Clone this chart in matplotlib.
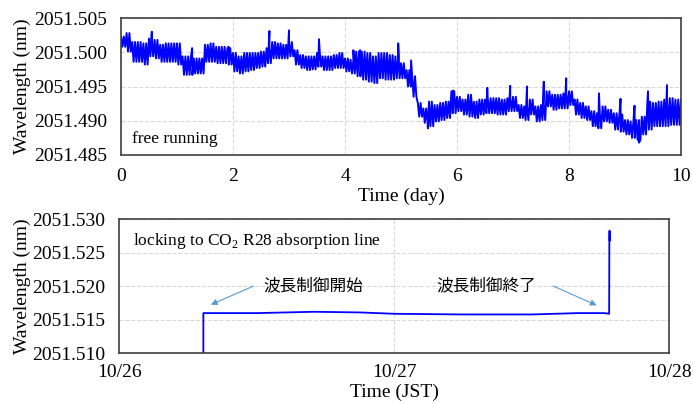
import numpy as np
import pandas as pd
import matplotlib
matplotlib.use('Agg')
import matplotlib.pyplot as plt
import matplotlib.dates as mdates

plt.rcParams['font.family'] = ['Liberation Serif', 'Noto Sans CJK JP']
plt.rcParams['mathtext.fontset'] = 'custom'
plt.rcParams['mathtext.rm'] = 'Liberation Serif'

# --- free running (top) ---
# upper / lower envelope of the noisy trace, every 0.1 day
day_grid = np.round(np.arange(0, 10.05, 0.1), 2)
wl_hi = [2051.5023, 2051.5028, 2051.5015, 2051.5015, 2051.5013, 2051.5020, 2051.5018, 2051.5011, 2051.5013, 2051.5013,
         2051.5013, 2051.4994, 2051.4994, 2051.4991, 2051.4991, 2051.5011, 2051.5013, 2051.5008, 2051.5008, 2051.5006,
         2051.4999, 2051.4994, 2051.4999, 2051.4999, 2051.4999, 2051.5001, 2051.5006, 2051.5015, 2051.5013, 2051.5011,
         2051.5015, 2051.5003, 2051.4996, 2051.4994, 2051.4994, 2051.4999, 2051.4994, 2051.4994, 2051.4996, 2051.4999,
         2051.4991, 2051.4989, 2051.5001, 2051.5001, 2051.4999, 2051.4994, 2051.4999, 2051.4999, 2051.4996, 2051.4994,
         2051.4984, 2051.4974, 2051.4965, 2051.4926, 2051.4918, 2051.4928, 2051.4923, 2051.4926, 2051.4928, 2051.4943,
         2051.4935, 2051.4931, 2051.4938, 2051.4928, 2051.4931, 2051.4931, 2051.4933, 2051.4933, 2051.4931, 2051.4933,
         2051.4935, 2051.4923, 2051.4921, 2051.4931, 2051.4921, 2051.4923, 2051.4943, 2051.4938, 2051.4938, 2051.4940,
         2051.4943, 2051.4931, 2051.4926, 2051.4921, 2051.4914, 2051.4911, 2051.4921, 2051.4916, 2051.4911, 2051.4909,
         2051.4901, 2051.4899, 2051.4901, 2051.4906, 2051.4928, 2051.4926, 2051.4928, 2051.4931, 2051.4933, 2051.4931,
         2051.4931]
wl_lo = [2051.5008, 2051.5001, 2051.4986, 2051.4986, 2051.4982, 2051.4994, 2051.4991, 2051.4986, 2051.4986, 2051.4986,
         2051.4982, 2051.4967, 2051.4967, 2051.4969, 2051.4969, 2051.4986, 2051.4986, 2051.4984, 2051.4984, 2051.4982,
         2051.4972, 2051.4969, 2051.4972, 2051.4974, 2051.4977, 2051.4979, 2051.4984, 2051.4991, 2051.4991, 2051.4991,
         2051.4994, 2051.4982, 2051.4977, 2051.4974, 2051.4975, 2051.4979, 2051.4974, 2051.4974, 2051.4977, 2051.4977,
         2051.4972, 2051.4969, 2051.4965, 2051.4960, 2051.4957, 2051.4955, 2051.4962, 2051.4960, 2051.4960, 2051.4962,
         2051.4962, 2051.4950, 2051.4935, 2051.4906, 2051.4897, 2051.4892, 2051.4899, 2051.4901, 2051.4904, 2051.4911,
         2051.4914, 2051.4909, 2051.4906, 2051.4904, 2051.4909, 2051.4911, 2051.4911, 2051.4909, 2051.4909, 2051.4914,
         2051.4914, 2051.4904, 2051.4901, 2051.4909, 2051.4899, 2051.4901, 2051.4921, 2051.4916, 2051.4918, 2051.4918,
         2051.4923, 2051.4909, 2051.4904, 2051.4901, 2051.4892, 2051.4889, 2051.4899, 2051.4897, 2051.4887, 2051.4884,
         2051.4880, 2051.4875, 2051.4872, 2051.4880, 2051.4887, 2051.4892, 2051.4892, 2051.4892, 2051.4894, 2051.4894,
         2051.4897]
# isolated spikes
spike_day = [0.55, 1.27, 1.92, 2.65, 3.0, 3.535, 4.15, 4.27, 4.95, 5.18, 5.48, 5.93, 6.54,
             6.95, 7.25, 7.55, 7.95, 8.535, 8.92, 9.17, 9.25, 9.41, 9.75]
spike_wl = [2051.5030, 2051.5006, 2051.5008, 2051.5031, 2051.5032, 2051.5019, 2051.5003, 2051.5003,
            2051.5013, 2051.4988, 2051.4889, 2051.4944, 2051.4948, 2051.4951, 2051.4950, 2051.4957,
            2051.4962, 2051.4940, 2051.4932, 2051.4922, 2051.4868, 2051.4943, 2051.4952]

# --- locked (bottom) ---
lock_time = ['2020-10-26 07:20', '2020-10-26 07:20', '2020-10-26 12:00', '2020-10-26 17:00',
             '2020-10-26 21:00', '2020-10-27 00:00', '2020-10-27 06:00', '2020-10-27 12:00',
             '2020-10-27 16:00', '2020-10-27 18:20', '2020-10-27 18:45', '2020-10-27 18:46',
             '2020-10-27 18:47', '2020-10-27 18:48', '2020-10-27 18:49', '2020-10-27 18:50']
lock_wl = [2051.5090, 2051.5160, 2051.5160, 2051.5162, 2051.5161, 2051.5159, 2051.5158, 2051.5158,
           2051.5160, 2051.5160, 2051.5159, 2051.5262, 2051.5283, 2051.5268, 2051.5281, 2051.5272]

# build the free-running trace: hi/lo zigzag (two swings per 0.1 day bin) plus spikes
df = pd.DataFrame({'day': np.concatenate([day_grid, day_grid + 0.025, day_grid + 0.05,
                                          day_grid + 0.075, spike_day]),
                   'wl': np.concatenate([wl_hi, wl_lo, wl_hi, wl_lo, spike_wl])})
df = df[df['day'] <= 10].sort_values('day')

lock = pd.DataFrame({'t': pd.to_datetime(lock_time), 'wl': lock_wl})

fig = plt.figure(figsize=(6.93, 4.03), dpi=100)
ax1 = fig.add_axes([0.1746, 0.6154, 0.8081, 0.3399])
ax2 = fig.add_axes([0.1722, 0.1233, 0.7936, 0.3325])

spine_col = '#404040'
grid_kw = dict(color='#d9d9d9', linestyle='--', linewidth=0.8)

# top panel
ax1.plot(df['day'], df['wl'], color='blue', linewidth=1.4)
ax1.set_xlim(0, 10)
ax1.set_ylim(2051.485, 2051.505)
ax1.set_xticks([0, 2, 4, 6, 8, 10])
ax1.set_yticks([2051.485, 2051.490, 2051.495, 2051.500, 2051.505])
ax1.yaxis.set_major_formatter(plt.FormatStrFormatter('%.3f'))
ax1.set_xlabel('Time (day)', fontsize=14)
ax1.set_ylabel('Wavelength (nm)', fontsize=14)
ax1.text(0.02, 0.117, 'free running', transform=ax1.transAxes, fontsize=12.5, va='center')

# bottom panel
ax2.plot(lock['t'], lock['wl'], color='blue', linewidth=1.3)
ax2.set_xlim(pd.Timestamp('2020-10-26'), pd.Timestamp('2020-10-28'))
ax2.set_ylim(2051.510, 2051.530)
ax2.xaxis.set_major_locator(mdates.DayLocator())
ax2.xaxis.set_major_formatter(mdates.DateFormatter('%m/%d'))
ax2.set_yticks([2051.510, 2051.515, 2051.520, 2051.525, 2051.530])
ax2.yaxis.set_major_formatter(plt.FormatStrFormatter('%.3f'))
ax2.set_xlabel('Time (JST)', fontsize=14)
ax2.set_ylabel('Wavelength (nm)', fontsize=14)
ax2.text(0.024, 0.838, r'locking to CO$_2$ R28 absorption line', transform=ax2.transAxes,
         fontsize=12.5, va='center')

# annotations: text and arrows
jp_kw = dict(fontsize=12, family=['Noto Sans CJK JP'], va='center', ha='left')
arrow_kw = dict(arrowstyle='-|>', color='#5b9bd5', lw=0.8, mutation_scale=9)
ax2.text(pd.Timestamp('2020-10-26 12:33'), 2051.5201, '波長制御開始', **jp_kw)
ax2.annotate('', xy=(pd.Timestamp('2020-10-26 07:46'), 2051.5171),
             xytext=(pd.Timestamp('2020-10-26 11:56'), 2051.5202), arrowprops=arrow_kw)
ax2.text(pd.Timestamp('2020-10-27 03:42'), 2051.5201, '波長制御終了', **jp_kw)
ax2.annotate('', xy=(pd.Timestamp('2020-10-27 17:53'), 2051.5170),
             xytext=(pd.Timestamp('2020-10-27 13:39'), 2051.5202), arrowprops=arrow_kw)

for ax in (ax1, ax2):
    ax.grid(True, **grid_kw)
    ax.tick_params(length=0, labelsize=14)
    ax.tick_params(axis='y', pad=10)
    for s in ax.spines.values():
        s.set_color(spine_col)
        s.set_linewidth(1.2)

ax1.tick_params(axis='x', pad=9.5)
ax2.tick_params(axis='x', pad=8)
ax1.yaxis.set_label_coords(-0.161, 0.5)
ax2.yaxis.set_label_coords(-0.1605, 0.5)
ax1.xaxis.set_label_coords(0.5, -0.241)
ax2.xaxis.set_label_coords(0.5, -0.229)

fig.savefig('out.png', dpi=100)
